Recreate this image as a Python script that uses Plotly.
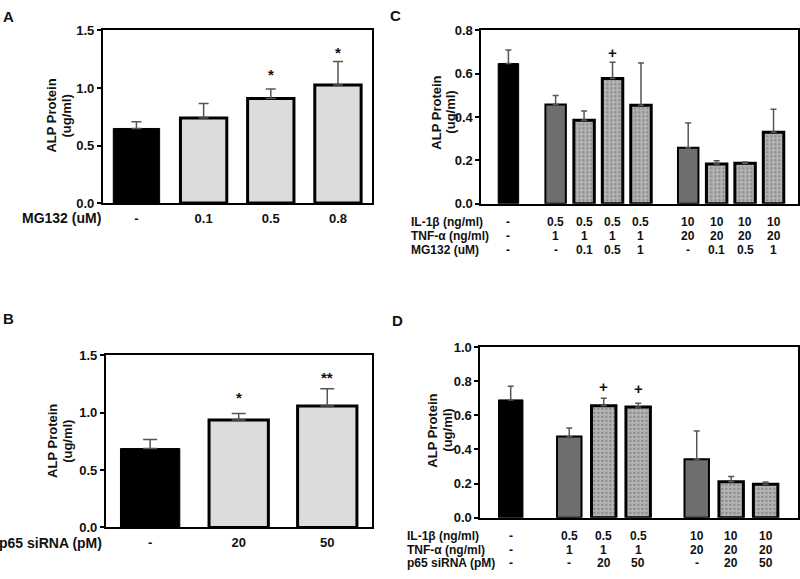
import plotly.graph_objects as go

# ---------------- data ----------------
# Panel A: MG132 dose
a_labels = ["-", "0.1", "0.5", "0.8"]
a_means = [0.648, 0.739, 0.908, 1.026]
a_err = [0.059, 0.126, 0.082, 0.203]
a_style = ["ctrl", "treat", "treat", "treat"]
a_marks = ["", "", "*", "*"]
a_mark_y = [None, None, 1.12, 1.31]

# Panel B: p65 siRNA
b_labels = ["-", "20", "50"]
b_means = [0.688, 0.937, 1.060]
b_err = [0.079, 0.057, 0.150]
b_style = ["ctrl", "treat", "treat"]
b_marks = ["", "*", "**"]
b_mark_y = [None, 1.13, 1.31]

# Panel C: cytokines + MG132
c_il1b = ["-", "0.5", "0.5", "0.5", "0.5", "10", "10", "10", "10"]
c_tnfa = ["-", "1", "1", "1", "1", "20", "20", "20", "20"]
c_mg132 = ["-", "-", "0.1", "0.5", "1", "-", "0.1", "0.5", "1"]
c_group = [0, 1, 1, 1, 1, 2, 2, 2, 2]
c_means = [0.647, 0.458, 0.385, 0.578, 0.455, 0.258, 0.184, 0.187, 0.330]
c_err = [0.062, 0.042, 0.043, 0.075, 0.194, 0.115, 0.015, 0.006, 0.106]
c_style = ["ctrl", "cyto", "dot", "dot", "dot", "cyto", "dot", "dot", "dot"]
c_marks = ["", "", "", "+", "", "", "", "", ""]
c_mark_y = [None, None, None, 0.70, None, None, None, None, None]

# Panel D: cytokines + p65 siRNA
d_il1b = ["-", "0.5", "0.5", "0.5", "10", "10", "10"]
d_tnfa = ["-", "1", "1", "1", "20", "20", "20"]
d_p65 = ["-", "-", "20", "50", "-", "20", "50"]
d_group = [0, 1, 1, 1, 2, 2, 2]
d_means = [0.690, 0.475, 0.656, 0.648, 0.342, 0.211, 0.196]
d_err = [0.080, 0.050, 0.044, 0.023, 0.166, 0.030, 0.013]
d_style = ["ctrl", "cyto", "dot", "dot", "cyto", "dot", "dot"]
d_marks = ["", "", "+", "+", "", "", ""]
d_mark_y = [None, None, 0.77, 0.755, None, None, None]

# ---------------- styling ----------------
W, H = 800, 579
FONT = "Liberation Sans, Arial, sans-serif"
C_GAP = 0.66
D_GAP = 0.70

STYLES = {
    "ctrl": dict(color="#000000", line=dict(color="#000000", width=1)),
    "treat": dict(color="#dcdcdc", line=dict(color="#000000", width=3)),
    "cyto": dict(color="#6e6e6e", line=dict(color="#000000", width=2)),
    "dot": dict(color="#b3b3b3", line=dict(color="#000000", width=3),
                pattern=dict(shape=".", fgcolor="#5a5a5a", bgcolor="#b3b3b3",
                             size=4, solidity=0.25)),
}


def px_x(p):
    return p / W


def px_y(p):
    return 1 - p / H


def positions(groups, gap):
    return [i + gap * g for i, g in enumerate(groups)]


fig = go.Figure()


def add_bars(xs, means, errs, styles, xa, ya, width, capw):
    for key in ["ctrl", "treat", "cyto", "dot"]:
        idx = [i for i, s in enumerate(styles) if s == key]
        if not idx:
            continue
        fig.add_trace(go.Bar(
            x=[xs[i] for i in idx],
            y=[means[i] for i in idx],
            width=width,
            marker=STYLES[key],
            error_y=dict(type="data", symmetric=False,
                         array=[errs[i] for i in idx],
                         arrayminus=[0] * len(idx),
                         color="#555555", thickness=1.5, width=capw),
            xaxis=xa, yaxis=ya, showlegend=False,
        ))


a_x = list(range(len(a_means)))
b_x = list(range(len(b_means)))
c_x = positions(c_group, C_GAP)
d_x = positions(d_group, D_GAP)

add_bars(a_x, a_means, a_err, a_style, "x", "y", 0.69, 5)
add_bars(b_x, b_means, b_err, b_style, "x2", "y2", 0.67, 7)
add_bars(c_x, c_means, c_err, c_style, "x3", "y3", 0.72, 3)
add_bars(d_x, d_means, d_err, d_style, "x4", "y4", 0.71, 3)

tickfont = dict(family=FONT, size=13, color="#111", weight="bold")
axis_common = dict(showline=True, mirror=True, linecolor="#000", linewidth=2,
                   showgrid=False, zeroline=False)
xcommon = dict(axis_common, ticks="", tickfont=tickfont)
ycommon = dict(axis_common, ticks="outside", ticklen=4, tickwidth=2,
               tickcolor="#000", tickfont=tickfont, tickformat=".1f")

fig.update_layout(
    width=W, height=H, margin=dict(l=0, r=0, t=0, b=0),
    paper_bgcolor="white", plot_bgcolor="white",
    barmode="overlay",
    font=dict(family=FONT, color="#111"),
    xaxis=dict(xcommon, domain=[px_x(103), px_x(372)], range=[-0.5, 3.5],
               tickvals=a_x, ticktext=a_labels, anchor="y",
               ticklabelstandoff=2),
    yaxis=dict(ycommon, domain=[px_y(201.3), px_y(24)], range=[0, 1.5],
               dtick=0.5, anchor="x"),
    xaxis2=dict(xcommon, domain=[px_x(106), px_x(372)], range=[-0.5, 2.5],
                tickvals=b_x, ticktext=b_labels, anchor="y2",
                ticklabelstandoff=2),
    yaxis2=dict(ycommon, domain=[px_y(534.3), px_y(357.7)], range=[0, 1.5],
                dtick=0.5, anchor="x2"),
    xaxis3=dict(xcommon, domain=[px_x(482), px_x(799)],
                range=[-0.95, c_x[-1] + 0.86], showticklabels=False,
                anchor="y3"),
    yaxis3=dict(ycommon, domain=[px_y(202), px_y(24)], range=[0, 0.8],
                dtick=0.2, anchor="x3"),
    xaxis4=dict(xcommon, domain=[px_x(481), px_x(799)],
                range=[-0.88, d_x[-1] + 0.94], showticklabels=False,
                anchor="y4"),
    yaxis4=dict(ycommon, domain=[px_y(524.3), px_y(349)], range=[0, 1.0],
                dtick=0.2, anchor="x4"),
)

ann = []


def text(x, y, s, size=13, xanchor="center", angle=0, xref="paper", yref="paper"):
    ann.append(dict(x=x, y=y, xref=xref, yref=yref, text=s, showarrow=False,
                    xanchor=xanchor, yanchor="middle", textangle=angle,
                    font=dict(family=FONT, size=size, color="#111", weight="bold")))


# panel letters
text(px_x(9), px_y(10), "A", size=15)
text(px_x(9), px_y(320), "B", size=15)
text(px_x(395.5), px_y(9), "C", size=15)
text(px_x(398), px_y(322), "D", size=15)

# y-axis titles
for (x1, x2, yc) in [(52, 67, 111.5), (53, 68, 445.5), (437, 451, 108), (433, 448, 434.5)]:
    text(px_x(x1), px_y(yc), "ALP Protein", angle=-90)
    text(px_x(x2), px_y(yc), "(ug/ml)", angle=-90)

# row labels A / B
text(px_x(103), px_y(217), "MG132 (uM)", size=14, xanchor="right")
text(px_x(104), px_y(550), "p65 siRNA (pM)", size=14, xanchor="right")

# row labels & cell values C
ROW = 12
c_rows = [("IL-1β (ng/ml)", c_il1b, 221), ("TNF-α (ng/ml)", c_tnfa, 235),
          ("MG132 (uM)", c_mg132, 249)]
for label, vals, yp in c_rows:
    text(px_x(410), px_y(yp), label, size=ROW, xanchor="left")
    for xv, v in zip(c_x, vals):
        text(xv, px_y(yp), v, size=ROW, xref="x3")

d_rows = [("IL-1β (ng/ml)", d_il1b, 543), ("TNF-α (ng/ml)", d_tnfa, 557),
          ("p65 siRNA (pM)", d_p65, 571)]
for label, vals, yp in d_rows:
    text(px_x(406), px_y(yp), label, size=ROW, xanchor="left")
    for xv, v in zip(d_x, vals):
        text(xv, px_y(yp), v, size=ROW, xref="x4")

# significance marks
for xs, marks, ys, xr, yr in [(a_x, a_marks, a_mark_y, "x", "y"),
                              (b_x, b_marks, b_mark_y, "x2", "y2"),
                              (c_x, c_marks, c_mark_y, "x3", "y3"),
                              (d_x, d_marks, d_mark_y, "x4", "y4")]:
    for xv, m, yv in zip(xs, marks, ys):
        if m:
            text(xv, yv, m, size=15, xref=xr, yref=yr)

fig.update_layout(annotations=ann)
fig.write_html(
    "out.html",
    config={"displayModeBar": False},
    post_script="document.body.style.margin='0';"
                "document.body.style.overflow='hidden';"
                "document.documentElement.style.overflow='hidden';",
)
